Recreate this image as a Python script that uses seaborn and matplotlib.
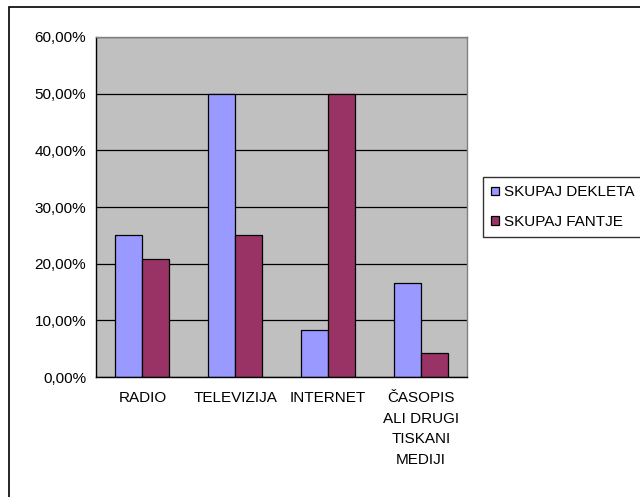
import matplotlib
matplotlib.use("Agg")
import matplotlib.pyplot as plt
from matplotlib.patches import Rectangle
from matplotlib.ticker import FuncFormatter, FixedLocator
import seaborn as sns
import pandas as pd

# data
categories = ["RADIO", "TELEVIZIJA", "INTERNET", "ČASOPIS\nALI DRUGI\nTISKANI\nMEDIJI"]
dekleta = [25.0, 50.0, 8.33, 16.67]
fantje = [20.83, 25.0, 50.0, 4.17]
series = ["SKUPAJ DEKLETA", "SKUPAJ FANTJE"]
yticks = [0, 10, 20, 30, 40, 50, 60]

df = pd.DataFrame({
    "cat": categories * 2,
    "val": dekleta + fantje,
    "series": [series[0]] * 4 + [series[1]] * 4,
})

sns.set_style("white")
plt.rcParams["font.family"] = ["Liberation Sans", "DejaVu Sans"]
plt.rcParams["text.color"] = "black"
plt.rcParams["xtick.color"] = "black"
plt.rcParams["ytick.color"] = "black"
fs = 11

fig = plt.figure(figsize=(6.4, 4.97), dpi=100)
ax = fig.add_axes([0.15, 0.2414, 0.58, 0.6842])

# outer chart border
fig.patches.append(Rectangle((9 / 640, -0.01), 0.99, 1 - 7 / 497 + 0.01,
                             transform=fig.transFigure, fill=False,
                             edgecolor="black", linewidth=1.2))

ax.set_facecolor("#C0C0C0")
ax.set_axisbelow(True)
ax.yaxis.grid(True, color="black", linewidth=0.9)

sns.barplot(data=df, x="cat", y="val", hue="series", ax=ax,
            palette=["#9999FF", "#993366"], width=0.58,
            edgecolor="black", linewidth=0.9, saturation=1)

ax.set_xlim(-0.5, 3.5)
ax.set_ylim(0, 60)
ax.set_yticks(yticks)
ax.yaxis.set_major_formatter(FuncFormatter(lambda v, p: f"{v:.2f}".replace(".", ",") + "%"))
ax.set_xlabel("")
ax.set_ylabel("")

ax.tick_params(axis="x", which="major", length=0, pad=10, labelsize=fs)
ax.set_xticks(range(4))
ax.set_xticklabels(categories, linespacing=1.6, va="top")
ax.xaxis.set_minor_locator(FixedLocator([-0.5, 0.5, 1.5, 2.5, 3.5]))
ax.tick_params(axis="x", which="minor", length=4, color="black", width=1, direction="out")
ax.tick_params(axis="y", length=4, color="black", width=1, direction="out", labelsize=fs, pad=3)

for s in ["top", "right"]:
    ax.spines[s].set_color("#808080")
    ax.spines[s].set_linewidth(1)
for s in ["left", "bottom"]:
    ax.spines[s].set_color("black")
    ax.spines[s].set_linewidth(1)

leg = ax.legend(loc="upper left", bbox_to_anchor=(483 / 640, 1 - 177 / 497),
                bbox_transform=fig.transFigure, frameon=True, fancybox=False,
                edgecolor="black", fontsize=fs, handlelength=0.5, handleheight=0.5,
                handletextpad=0.35, borderpad=0.55, labelspacing=1.0, borderaxespad=0)
leg.get_frame().set_linewidth(1)

fig.savefig("out.png", dpi=100)
